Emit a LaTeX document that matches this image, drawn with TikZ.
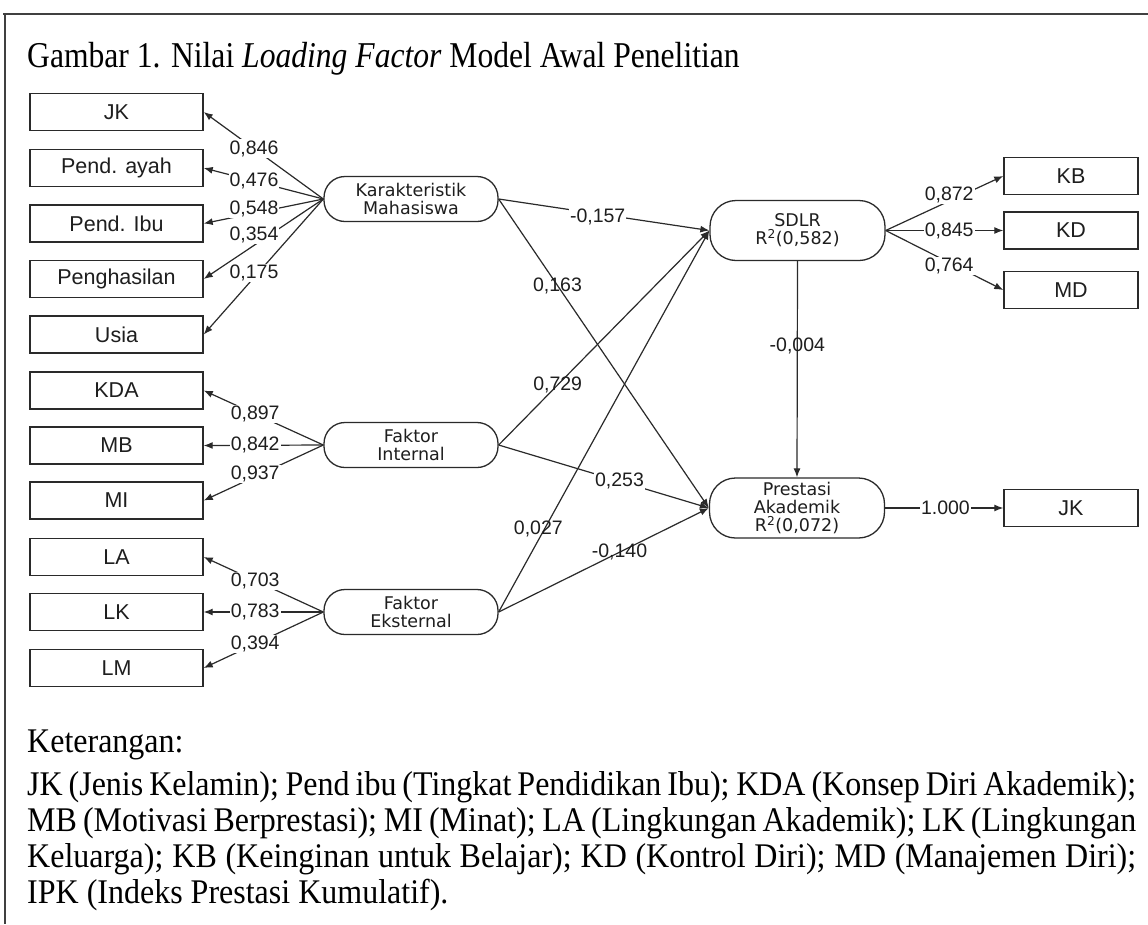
\documentclass[tikz,border=0pt]{standalone}
\usepackage{fontspec}
\setmainfont{Liberation Serif}
\newfontfamily\arialf{Liberation Sans}
\newfontfamily\tahf{DejaVu Sans}
\usetikzlibrary{arrows.meta}
\definecolor{ln}{HTML}{2A2A2A}
\definecolor{tx}{HTML}{1E1E1E}
\newcommand{\tall}[1]{\scalebox{1}[1.15]{#1}}
\newcommand{\talll}[1]{\scalebox{1}[1.08]{#1}}
\begin{document}
\begin{tikzpicture}[x=1pt,y=-1pt,
  ind/.style={draw=ln, line width=1.4pt, minimum width=173pt, minimum height=37pt, inner sep=0pt, text=tx, font=\arialf\fontsize{21.5}{23}\selectfont},
  indr/.style={ind, minimum width=134pt},
  lat/.style={draw=ln, line width=1.3pt, rounded corners=21pt, minimum width=174pt, minimum height=45pt, inner sep=0pt, align=center, text=tx, font=\tahf\fontsize{17.5}{18}\selectfont},
  endo/.style={lat, minimum width=175pt, minimum height=60pt, rounded corners=26pt},
  lbl/.style={font=\arialf\fontsize{19.5}{19.5}\selectfont, text=tx, inner sep=1pt, fill=white},
  lbln/.style={lbl, fill=none},
  arr/.style={draw=ln, line width=1.2pt, -{Latex[length=9pt,width=7pt]}},
  txt/.style={text=black, inner sep=0pt, anchor=base west},
]
\path[use as bounding box] (0,0) rectangle (1148,924);
\fill[white] (0,0) rectangle (1148,924);
\draw[line width=2pt, black!75] (3,13.5) -- (1148,13.5);
\draw[line width=1.4pt, black!75] (5,13.5) -- (5,924);

\node[txt, font=\fontsize{31.6}{33}\selectfont] (title) at (27,67) {\tall{Gambar 1. Nilai \textit{Loading Factor} Model Awal Penelitian}};

\node[ind] (jk) at (116.5,112) {JK};
\node[ind] (ayah) at (116.5,168) {Pend. ayah};
\node[ind] (ibu) at (116.5,223.5) {Pend. Ibu};
\node[ind] (hasil) at (116.5,279) {Penghasilan};
\node[ind] (usia) at (116.5,334.5) {Usia};
\node[ind] (kda) at (116.5,390.5) {KDA};
\node[ind] (mb) at (116.5,445.5) {MB};
\node[ind] (mi) at (116.5,500.5) {MI};
\node[ind] (la) at (116.5,557) {LA};
\node[ind] (lk) at (116.5,612) {LK};
\node[ind] (lm) at (116.5,668) {LM};

\node[lat] (km) at (411,199) {Karakteristik\\Mahasiswa};
\node[lat] (fi) at (411,445) {Faktor\\Internal};
\node[lat] (fe) at (411,612) {Faktor\\Eksternal};
\node[endo] (sdlr) at (797.5,230.5) {SDLR\\R\textsuperscript{2}(0,582)};
\node[endo] (pa) at (797,508) {Prestasi\\Akademik\\R\textsuperscript{2}(0,072)};

\node[indr] (kb) at (1071,176) {KB};
\node[indr] (kd) at (1071,230.5) {KD};
\node[indr] (md) at (1071,290) {MD};
\node[indr] (jk2) at (1071,508) {JK};

\draw[arr] (km.west) -- node[lbl,pos=0.58] {0,846} (jk.east);
\draw[arr] (km.west) -- node[lbl,pos=0.58] {0,476} (ayah.east);
\draw[arr] (km.west) -- node[lbl,pos=0.58,yshift=4pt] {0,548} (ibu.east);
\draw[arr] (km.west) -- node[lbl,pos=0.58,yshift=10pt] {0,354} (hasil.east);
\draw[arr] (km.west) -- node[lbl,pos=0.58,yshift=5pt] {0,175} (usia.east);

\draw[arr] (fi.west) -- node[lbl,pos=0.57] {0,897} (kda.east);
\draw[arr] (fi.west) -- node[lbl,pos=0.57] {0,842} (mb.east);
\draw[arr] (fi.west) -- node[lbl,pos=0.57,yshift=3pt] {0,937} (mi.east);

\draw[arr] (fe.west) -- node[lbl,pos=0.57] {0,703} (la.east);
\draw[arr] (fe.west) -- node[lbl,pos=0.57] {0,783} (lk.east);
\draw[arr] (fe.west) -- node[lbl,pos=0.57] {0,394} (lm.east);

\draw[arr] (km.east) -- node[lbl,pos=0.47,yshift=-3pt] {-0,157} (sdlr.west);
\draw[arr] (km.east) -- node[lbln,pos=0.28] {0,163} (pa.west);
\draw[arr] (fi.east) -- node[lbln,pos=0.28] {0,729} (sdlr.west);
\draw[arr] (fi.east) -- node[lbl,pos=0.575] {0,253} (pa.west);
\draw[arr] (fe.east) -- node[lbln,pos=0.217,xshift=-6pt] {0,027} (sdlr.west);
\draw[arr] (fe.east) -- node[lbln,pos=0.575] {-0,140} (pa.west);
\draw[arr] (sdlr.south) -- node[lbln,pos=0.39] {-0,004} (pa.north);
\draw[arr] (sdlr.east) -- node[lbl,pos=0.54,yshift=6pt] {0,872} (kb.west);
\draw[arr] (sdlr.east) -- node[lbl,pos=0.54] {0,845} (kd.west);
\draw[arr] (sdlr.east) -- node[lbl,pos=0.54,yshift=-3pt] {0,764} (md.west);
\draw[arr] (pa.east) -- node[lbl,pos=0.51] {1.000} (jk2.west);

\begin{scope}[every node/.style={txt, font=\fontsize{32}{33}\selectfont}]
\node (ket) at (27,752) {\talll{Keterangan:}};
\node (leg1) at (27,795) {\talll{\makebox[1109pt][s]{JK (Jenis Kelamin); Pend ibu (Tingkat Pendidikan Ibu); KDA (Konsep Diri Akademik);}}};
\node (leg2) at (27,831) {\talll{\makebox[1109pt][s]{MB (Motivasi Berprestasi); MI (Minat); LA (Lingkungan Akademik); LK (Lingkungan}}};
\node (leg3) at (27,867) {\talll{\makebox[1109pt][s]{Keluarga); KB (Keinginan untuk Belajar); KD (Kontrol Diri); MD (Manajemen Diri);}}};
\node (leg4) at (27,903) {\talll{IPK (Indeks Prestasi Kumulatif).}};
\end{scope}
\end{tikzpicture}
\end{document}
